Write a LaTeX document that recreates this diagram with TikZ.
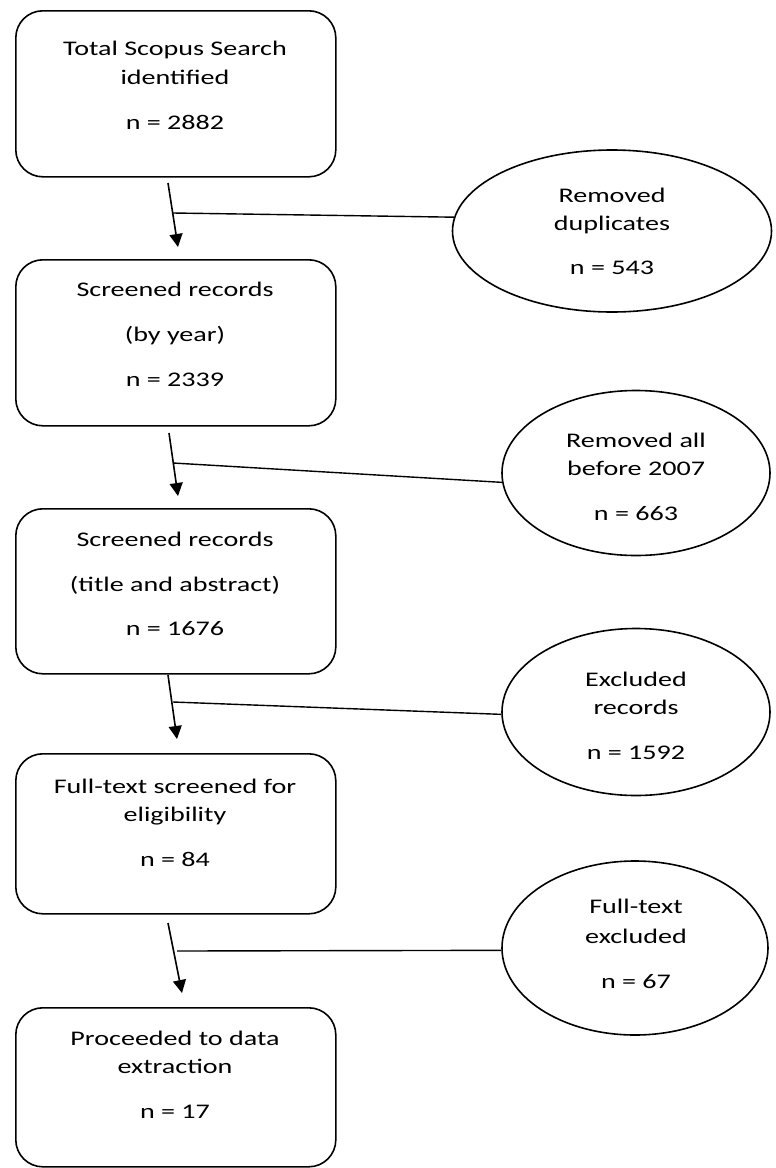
\documentclass[tikz,border=0pt]{standalone}
\usepackage{fontspec}
\setmainfont{Carlito}[FakeStretch=1.35]
\usetikzlibrary{shapes.geometric,arrows.meta}
\begin{document}
\begin{tikzpicture}[x=1pt,y=-1pt,
  stepbox/.style={draw,line width=1.6pt,rounded corners=27pt,minimum width=320pt,inner sep=0pt,anchor=north west},
  oval/.style={draw,ellipse,line width=1.6pt,inner sep=0pt},
  txt/.style={font=\fontsize{20.8}{25}\selectfont,inner sep=0pt,anchor=base},
  flow/.style={line width=1.6pt,-{Triangle[width=13pt,length=13pt]}},
  link/.style={line width=1.4pt}]
\useasboundingbox (0,0) rectangle (776,1168);
% boxes
\node[stepbox,minimum height=166pt] (b1) at (15,10) {};
\node[stepbox,minimum height=166pt] (b2) at (15,259) {};
\node[stepbox,minimum height=165pt] (b3) at (15,508) {};
\node[stepbox,minimum height=160pt] (b4) at (15,753) {};
\node[stepbox,minimum height=159pt] (b5) at (15,1007) {};
% ellipses
\node[oval,minimum width=319pt,minimum height=162pt] (e1) at (612,231) {};
\node[oval,minimum width=268pt,minimum height=165pt] (e2) at (636,473) {};
\node[oval,minimum width=268pt,minimum height=167pt] (e3) at (636,712) {};
\node[oval,minimum width=266pt,minimum height=174pt] (e4) at (635,948) {};
% box texts
\node[txt] (t11) at (175,55) {Total Scopus Search};
\node[txt] (t12) at (175,84) {identified};
\node[txt] (t13) at (175,129) {n = 2882};
\node[txt] (t21) at (175,296) {Screened records};
\node[txt] (t22) at (175,341) {(by year)};
\node[txt] (t23) at (175,386) {n = 2339};
\node[txt] (t31) at (175,546) {Screened records};
\node[txt] (t32) at (175,591) {(title and abstract)};
\node[txt] (t33) at (175,635) {n = 1676};
\node[txt] (t41) at (175,793) {Full-text screened for};
\node[txt] (t42) at (175,821) {eligibility};
\node[txt] (t43) at (175,866) {n = 84};
\node[txt] (t51) at (175,1045) {Proceeded to data};
\node[txt] (t52) at (175,1073) {extraction};
\node[txt] (t53) at (175,1118) {n = 17};
% ellipse texts
\node[txt] (u11) at (612,202) {Removed};
\node[txt] (u12) at (612,230) {duplicates};
\node[txt] (u13) at (612,274) {n = 543};
\node[txt] (u21) at (636,447) {Removed all};
\node[txt] (u22) at (636,475) {before 2007};
\node[txt] (u23) at (636,520) {n = 663};
\node[txt] (u31) at (636,686) {Excluded};
\node[txt] (u32) at (636,714) {records};
\node[txt] (u33) at (636,759) {n = 1592};
\node[txt] (u41) at (636,913) {Full-text};
\node[txt] (u42) at (636,943) {excluded};
\node[txt] (u43) at (636,988) {n = 67};
% arrow coordinates
\coordinate (s1) at (168,183); \coordinate (d1) at (178,247);
\coordinate (s2) at (169,433); \coordinate (d2) at (178,496);
\coordinate (s3) at (168,675); \coordinate (d3) at (177,739);
\coordinate (s4) at (168,923); \coordinate (d4) at (182,993);
\coordinate (j1) at (173,213);
\coordinate (j2) at (173,463);
\coordinate (j3) at (173,702);
\coordinate (j4) at (177,951);
\draw[flow] (s1) -- (d1);
\draw[flow] (s2) -- (d2);
\draw[flow] (s3) -- (d3);
\draw[flow] (s4) -- (d4);
\draw[link] (j1) -- (e1.175);
\draw[link] (j2) -- (e2.184);
\draw[link] (j3) -- (e3.181);
\draw[link] (j4) -- (e4.181);
\end{tikzpicture}
\end{document}
